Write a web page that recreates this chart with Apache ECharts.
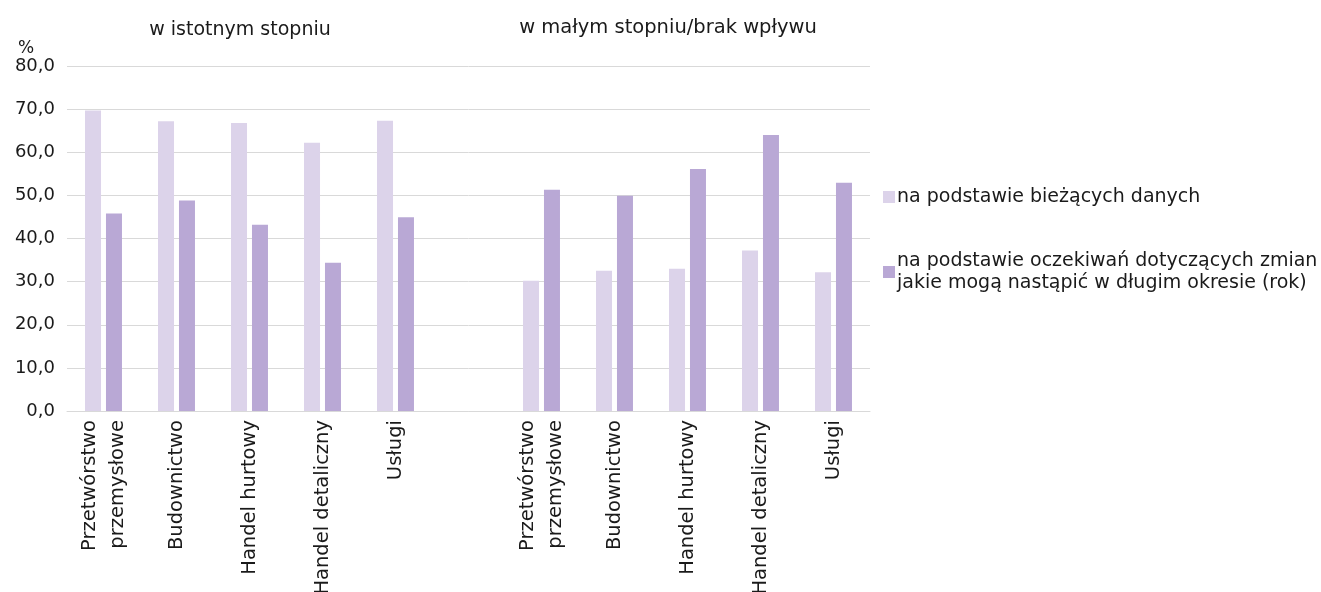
<!DOCTYPE html>
<html>
<head>
<meta charset="utf-8">
<script src="https://cdn.jsdelivr.net/npm/echarts@6/dist/echarts.min.js"></script>
<style>
  html, body { margin: 0; padding: 0; background: #fff; }
  #chart { width: 1321px; height: 592px; }
</style>
</head>
<body>
<div id="chart"></div>
<script>
// categories: two groups of five, with an empty slot between them
let categories = [
  'Przetwórstwo\nprzemysłowe', 'Budownictwo', 'Handel hurtowy', 'Handel detaliczny', 'Usługi',
  '',
  'Przetwórstwo\nprzemysłowe', 'Budownictwo', 'Handel hurtowy', 'Handel detaliczny', 'Usługi'
];
let seriesNames = [
  'na podstawie bieżących danych',
  'na podstawie oczekiwań dotyczących zmian\njakie mogą nastąpić w długim okresie (rok)'
];
let currentData = [69.7, 67.2, 66.8, 62.2, 67.3, null, 30.2, 32.5, 33.0, 37.2, 32.2];
let expectedData = [45.8, 48.8, 43.2, 34.4, 44.9, null, 51.3, 49.9, 56.1, 64.0, 52.9];
let groupTitles = ['w istotnym stopniu', 'w małym stopniu/brak wpływu'];

let chartDom = document.getElementById('chart');
let chart = echarts.init(chartDom);
let option;

const font = '"DejaVu Sans", sans-serif';

option = {
  color: ['#dcd3ea', '#b9a8d5'],
  textStyle: { fontFamily: font },
  title: [
    {
      text: groupTitles[0],
      left: 235, top: 16,
      textAlign: 'center',
      textStyle: { fontFamily: font, fontSize: 19, fontWeight: 'normal', color: '#1a1a1a' }
    },
    {
      text: groupTitles[1],
      left: 663, top: 13,
      textAlign: 'center',
      textStyle: { fontFamily: font, fontSize: 19.5, fontWeight: 'normal', color: '#1a1a1a' }
    },
    {
      text: '%',
      left: 13, top: 35,
      textStyle: { fontFamily: font, fontSize: 17, fontWeight: 'normal', color: '#1a1a1a' }
    }
  ],
  legend: {
    orient: 'vertical',
    left: 878,
    top: 181,
    itemWidth: 12,
    itemHeight: 12,
    itemGap: 42,
    icon: 'rect',
    data: seriesNames,
    textStyle: { fontFamily: font, fontSize: 19, color: '#1a1a1a', lineHeight: 22, padding: [0, 0, 0, -3] }
  },
  grid: {
    left: 67,
    right: 451,
    top: 66,
    bottom: 181,
    outerBoundsMode: 'none'
  },
  xAxis: {
    type: 'category',
    data: categories,
    axisLine: { lineStyle: { color: '#d9d9d9' } },
    axisTick: { show: false },
    axisLabel: {
      rotate: 90,
      interval: 0,
      margin: 9,
      fontFamily: font,
      fontSize: 19.5,
      color: '#1a1a1a',
      lineHeight: 28
    }
  },
  yAxis: {
    type: 'value',
    min: 0,
    max: 80,
    interval: 10,
    axisLine: { show: false },
    axisTick: { show: false },
    splitLine: { lineStyle: { color: '#d9d9d9' } },
    axisLabel: {
      margin: 12,
      fontFamily: font,
      fontSize: 18,
      color: '#1a1a1a',
      formatter: function (v) { return v.toFixed(1).replace('.', ','); }
    }
  },
  series: [
    {
      name: seriesNames[0],
      type: 'bar',
      barWidth: 16,
      barGap: '31%',
      data: currentData
    },
    {
      name: seriesNames[1],
      type: 'bar',
      barWidth: 16,
      barGap: '31%',
      data: expectedData
    }
  ]
};

option && chart.setOption(option);
</script>
</body>
</html>
